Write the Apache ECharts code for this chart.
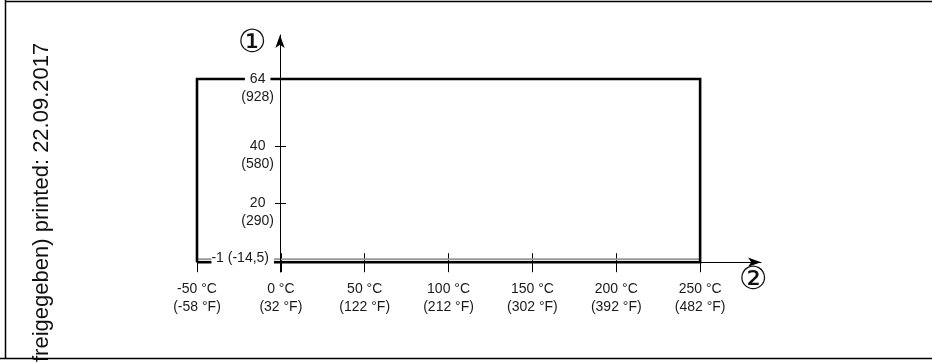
<!DOCTYPE html>
<html><head><meta charset="utf-8">
<script src="https://cdn.jsdelivr.net/npm/echarts@6/dist/echarts.min.js"></script>
<style>html,body{margin:0;padding:0;background:#fff}#c{width:932px;height:363px}</style>
</head><body><div id="c"></div>
<script>
// ---- data ----
const tempTicksC = [-50, 0, 50, 100, 150, 200, 250];
const tempTicksF = ['-58', '32', '122', '212', '302', '392', '482'];
const pressTicksBar = [-1, 20, 40, 64];
const pressTicksPsi = ['-14,5', '290', '580', '928'];
const rangeTemp = [-50, 250];
const rangePress = [-1, 64];
const baseLineValue = [0];
const sideText = 'freigegeben) printed: 22.09.2017';
const axisMarkY = '①';
const axisMarkX = '②';

// ---- chart ----
const FONT = '"Liberation Sans", Arial, sans-serif';
const TXT = '#1a1a1a';
const xMin = -50, xMax = 286.3, yMin = -4.48, yMax = 79.61;

const rectData = [
  [rangeTemp[0], rangePress[0]], [rangeTemp[0], rangePress[1]],
  [rangeTemp[1], rangePress[1]], [rangeTemp[1], rangePress[0]],
  [rangeTemp[0], rangePress[0]]
];
const greyData = [[rangeTemp[0], baseLineValue[0]], [rangeTemp[1], baseLineValue[0]]];

const chart = echarts.init(document.getElementById('c'), null, {renderer: 'canvas'});
chart.setOption({
  animation: false,
  backgroundColor: '#fff',
  grid: [
    {left: 197, right: 171, top: 35, bottom: 91},
    {left: 197, right: 171, top: 35, bottom: 100.8},
    {left: 280, right: 600, top: 35, bottom: 91}
  ],
  xAxis: [
    {gridIndex: 0, type: 'value', min: xMin, max: xMax, show: false},
    {gridIndex: 1, type: 'value', min: xMin, max: xMax, position: 'bottom',
      axisLine: {onZero: false, symbol: ['none', 'arrow'], symbolSize: [7, 13], lineStyle: {color: '#000', width: 1}},
      axisTick: {customValues: tempTicksC, length: 10, lineStyle: {color: '#000', width: 1}},
      axisLabel: {customValues: tempTicksC, margin: 18, color: TXT, fontFamily: FONT, fontSize: 14, lineHeight: 18,
        formatter: v => v + ' °C\n(' + tempTicksF[tempTicksC.indexOf(v)] + ' °F)'},
      splitLine: {show: false}},
    {gridIndex: 1, type: 'value', min: xMin, max: xMax, position: 'bottom',
      axisLine: {show: false, onZero: false},
      axisTick: {customValues: tempTicksC, inside: true, length: 9, lineStyle: {color: '#000', width: 1}},
      axisLabel: {show: false}, splitLine: {show: false}},
    {gridIndex: 2, type: 'value', min: 0, max: 1, show: false}
  ],
  yAxis: [
    {gridIndex: 0, type: 'value', min: yMin, max: yMax, show: false},
    {gridIndex: 1, type: 'value', min: 0, max: 1, show: false},
    {gridIndex: 2, type: 'value', min: yMin, max: yMax, position: 'left', z: 10,
      axisLine: {show: true, onZero: false, symbol: ['none', 'arrow'], symbolSize: [7, 13], lineStyle: {color: '#000', width: 1}},
      axisTick: {show: true, customValues: [20, 40, 64], length: 5, lineStyle: {color: '#000', width: 1}},
      axisLabel: {customValues: pressTicksBar, margin: 6, color: TXT, fontFamily: FONT, fontSize: 14,
        formatter: v => {
          const i = pressTicksBar.indexOf(v);
          if (v === rangePress[0]) return '{m|' + v + ' (' + pressTicksPsi[i] + ')}\n{s| }';
          return '{e| }\n{v|' + v + '}\n{p|(' + pressTicksPsi[i] + ')}';
        },
        rich: {
          e: {lineHeight: 18, fontSize: 14, fontFamily: FONT, align: 'center'},
          s: {lineHeight: 8, fontSize: 6, fontFamily: FONT},
          v: {lineHeight: 18, fontSize: 14, fontFamily: FONT, color: TXT, align: 'center', backgroundColor: '#fff', padding: [0, 5]},
          p: {lineHeight: 18, fontSize: 14, fontFamily: FONT, color: TXT, align: 'center'},
          m: {lineHeight: 18, fontSize: 14, fontFamily: FONT, color: TXT, backgroundColor: '#fff', padding: [0, 5, 0, 0]}
        }},
      splitLine: {show: false}},
    {gridIndex: 2, type: 'value', min: yMin, max: yMax, position: 'left', z: 10,
      axisLine: {show: false, onZero: false},
      axisTick: {show: true, customValues: [20, 40, 64], inside: true, length: 6, lineStyle: {color: '#000', width: 1}},
      axisLabel: {show: false}, splitLine: {show: false}}
  ],
  series: [
    {type: 'line', xAxisIndex: 0, yAxisIndex: 0, data: greyData, symbol: 'none', z: 2,
      lineStyle: {color: '#9a9a9a', width: 2}, silent: true},
    {type: 'line', xAxisIndex: 0, yAxisIndex: 0, data: rectData, symbol: 'none', z: 3,
      lineStyle: {color: '#000', width: 2.6, join: 'miter'}, silent: true}
  ],
  graphic: [
    {type: 'text', x: 42, y: 362, rotation: Math.PI / 2, z: 1,
      style: {text: sideText, font: '22px ' + FONT, fill: '#111', align: 'left', verticalAlign: 'middle'}},
    {type: 'line', z: 5, shape: {x1: 5.5, y1: 0, x2: 5.5, y2: 358}, style: {stroke: '#000', lineWidth: 1.5}},
    {type: 'line', z: 5, shape: {x1: 5, y1: 1.5, x2: 932, y2: 1.5}, style: {stroke: '#000', lineWidth: 1.5}},
    {type: 'line', z: 5, shape: {x1: 0, y1: 358.5, x2: 932, y2: 358.5}, style: {stroke: '#000', lineWidth: 1.5}},
    {type: 'text', x: 252, y: 44, z: 5,
      style: {text: axisMarkY, font: '32px "DejaVu Sans", sans-serif', fill: '#111', align: 'center', verticalAlign: 'middle'}},
    {type: 'text', x: 753, y: 281, z: 5,
      style: {text: axisMarkX, font: '32px "DejaVu Sans", sans-serif', fill: '#111', align: 'center', verticalAlign: 'middle'}}
  ]
});
</script></body></html>
